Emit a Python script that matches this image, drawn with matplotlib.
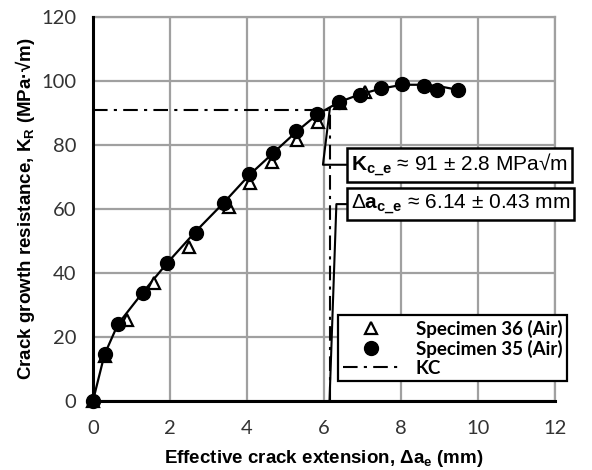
import numpy as np
import matplotlib.pyplot as plt

plt.rcParams['mathtext.fontset'] = 'custom'
plt.rcParams['mathtext.rm'] = 'Liberation Sans'
plt.rcParams['mathtext.it'] = 'Liberation Sans:italic'
plt.rcParams['mathtext.bf'] = 'Liberation Sans:bold'

# specimen 35 (air) - filled circles
a35 = [0, 0.31, 0.65, 1.3, 1.92, 2.67, 3.4, 4.05, 4.68, 5.27, 5.82, 6.39, 6.93, 7.48, 8.03, 8.6, 8.94, 9.48]
k35 = [0, 14.7, 24, 33.7, 43, 52.5, 62, 71, 77.5, 84.4, 89.7, 93.4, 95.6, 97.8, 99, 98.4, 97.2, 97.2]

# specimen 36 (air) - open triangles
a36 = [0, 0.3, 0.88, 1.58, 2.49, 3.52, 4.08, 4.65, 5.3, 5.84, 6.4, 7.06]
k36 = [0, 14, 25.2, 36.7, 48, 60.6, 68, 74.7, 81.6, 87.2, 93, 96.6]

# fitted resistance curve
a_fit = [0, 0.3, 0.65, 1.3, 1.92, 2.67, 3.4, 4.05, 4.68, 5.27, 5.82, 6.39, 6.93, 7.48, 8.03, 8.6, 9.0, 9.48]
k_fit = [0, 14.5, 24, 34, 43, 53, 62, 70.5, 77.5, 84, 89.5, 93.4, 95.8, 97.6, 98.8, 98.8, 98.3, 97.2]

kc = 91
dac = 6.14

fig = plt.figure(figsize=(5.92, 4.70), dpi=100)
ax = fig.add_axes([0.157, 0.147, 0.781, 0.817])

ax.plot(a_fit, k_fit, color='black', lw=1.6, zorder=3)
ax.plot(a36, k36, ls='none', marker='^', ms=8, mfc='white', mec='black', mew=1.6,
        label='Specimen 36 (Air)', zorder=4, clip_on=False)
ax.plot(a35, k35, ls='none', marker='o', ms=10, color='black',
        label='Specimen 35 (Air)', zorder=5, clip_on=False)
ax.plot([0, dac, dac], [kc, kc, 0], color='black', ls=(0, (7, 3, 1.5, 3)), lw=1.5,
        label='KC', zorder=2)

ax.set_xlim(0, 12)
ax.set_ylim(0, 120)
ax.set_xticks(np.arange(0, 13, 2))
ax.set_yticks(np.arange(0, 121, 20))
ax.grid(True, color='#a0a0a0', lw=1.6)
ax.set_axisbelow(True)
ax.tick_params(length=0, labelsize=14.5)
ax.tick_params(axis='x', pad=14)
ax.tick_params(axis='y', pad=12)
for lab in ax.get_xticklabels() + ax.get_yticklabels():
    lab.set_family('Lato')
    lab.set_color('#333333')
for s in ['top', 'right']:
    ax.spines[s].set_color('#a0a0a0')
    ax.spines[s].set_linewidth(1.6)
for s in ['left', 'bottom']:
    ax.spines[s].set_linewidth(2.2)
    ax.spines[s].set_zorder(6)

ax.set_xlabel(r'Effective crack extension, Δa$_\mathbf{e}$ (mm)',
              family='Liberation Sans', fontsize=13.5, fontweight='bold', labelpad=8)
ax.set_ylabel(r'Crack growth resistance, K$_\mathbf{R}$ (MPa·√m)',
              family='Liberation Sans', fontsize=13.5, fontweight='bold', labelpad=3)

# annotations
bbox = dict(boxstyle='square,pad=0.18', fc='white', ec='black', lw=1.8)
ax.annotate(r'$\mathbf{K_{c\_e}}$ ≈ 91 ± 2.8 MPa√m', xy=(6.15, 91.5), xytext=(6.7, 73.8),
            fontsize=15, family='Liberation Sans', va='center', ha='left', bbox=bbox,
            annotation_clip=False, zorder=7,
            arrowprops=dict(arrowstyle='-', color='black', lw=1.5,
                            connectionstyle='angle,angleA=0,angleB=83,rad=0',
                            shrinkA=0, shrinkB=0))
ax.annotate(r'Δ$\mathbf{a_{c\_e}}$ ≈ 6.14 ± 0.43 mm', xy=(6.14, 0), xytext=(6.7, 61.5),
            fontsize=15, family='Liberation Sans', va='center', ha='left', bbox=bbox,
            annotation_clip=False, zorder=7,
            arrowprops=dict(arrowstyle='-', color='black', lw=1.5,
                            connectionstyle='angle,angleA=0,angleB=88,rad=0',
                            shrinkA=0, shrinkB=0))

leg = ax.legend(loc='upper left', bbox_to_anchor=(0.53, 0.224), frameon=True, fancybox=False,
                edgecolor='black', framealpha=1, prop=dict(family='Lato', weight='bold', size=13.5),
                handlelength=3.0, borderpad=0.25, labelspacing=0.1, handletextpad=0.9,
                borderaxespad=0)
leg.get_frame().set_linewidth(1.6)
leg.set_zorder(8)

fig.savefig('out.png', dpi=100)
